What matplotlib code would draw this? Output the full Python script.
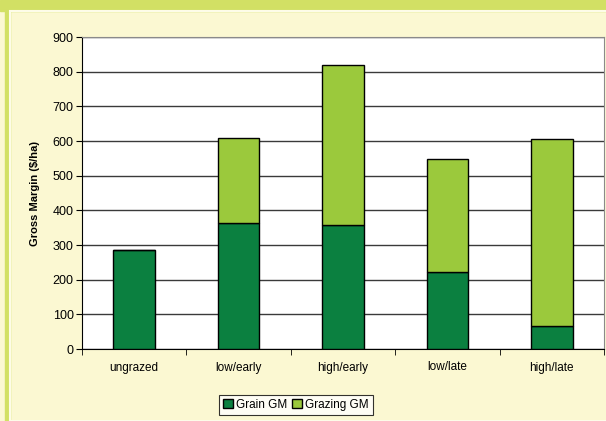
import matplotlib.pyplot as plt
from matplotlib.patches import Rectangle

plt.rcParams['font.family'] = ['Liberation Sans', 'DejaVu Sans']

treatments = ['ungrazed', 'low/early', 'high/early', 'low/late', 'high/late']
grain_gm = [287, 364, 357, 221, 66]
grazing_gm = [0, 246, 461, 326, 541]

grain_color = '#0b8040'
grazing_color = '#9bc93c'
page_color = '#fbf8d2'
band_color = '#d2e064'

fig = plt.figure(figsize=(6.06, 4.21), dpi=100, facecolor=page_color)

# header band, left margin strip and the pale inner edge of the panel
fig.patches.append(Rectangle((0, 1 - 11 / 421), 1, 11 / 421, transform=fig.transFigure,
                             color=band_color, zorder=0))
fig.patches.append(Rectangle((5 / 606, 0), 5 / 606, 1, transform=fig.transFigure,
                             color=band_color, zorder=0))
fig.patches.append(Rectangle((10 / 606, 0), 1, 1 - 11 / 421, transform=fig.transFigure,
                             facecolor='none', edgecolor='#fdfce8', linewidth=1.5, zorder=0))

ax = fig.add_axes([82 / 606, 1 - 349 / 421, 522 / 606, 312 / 421])
ax.set_facecolor('white')

x = list(range(len(treatments)))
ax.bar(x, grain_gm, 0.4, color=grain_color, edgecolor='black', linewidth=1,
       label='Grain GM', zorder=3)
ax.bar(x, grazing_gm, 0.4, bottom=grain_gm, color=grazing_color, edgecolor='black',
       linewidth=1, label='Grazing GM', zorder=3)

ax.set_xlim(-0.5, len(treatments) - 0.5)
ax.set_ylim(0, 900)
ax.set_yticks(range(0, 901, 100))
ax.yaxis.grid(True, color='#3a3a3a', linewidth=1)
ax.set_axisbelow(True)

# category labels between tick marks, ticks on the boundaries
ax.set_xticks(x)
ax.set_xticklabels(treatments, fontsize=8.5)
ax.tick_params(axis='x', which='major', length=0, pad=9)
ax.set_xticks([i - 0.5 for i in range(len(treatments) + 1)], minor=True)
ax.tick_params(axis='x', which='minor', length=4, direction='out', color='black')
ax.tick_params(axis='y', length=4, direction='out', labelsize=9, pad=2)

for side in ['top', 'right']:
    ax.spines[side].set_color('#8a8a8a')
ax.spines['left'].set_color('black')
ax.spines['bottom'].set_color('black')

ax.set_ylabel('Gross Margin ($/ha)', fontsize=8, fontweight='bold', labelpad=9)

leg = fig.legend(loc='center', bbox_to_anchor=(296 / 606, 16 / 421), ncol=2,
                 fontsize=8.5, frameon=True, fancybox=False, edgecolor='black',
                 handlelength=0.8, handleheight=0.8, handletextpad=0.3,
                 columnspacing=0.4, borderpad=0.35, borderaxespad=0)
leg.get_frame().set_linewidth(0.8)

fig.savefig('out.png', dpi=100, facecolor=page_color)
